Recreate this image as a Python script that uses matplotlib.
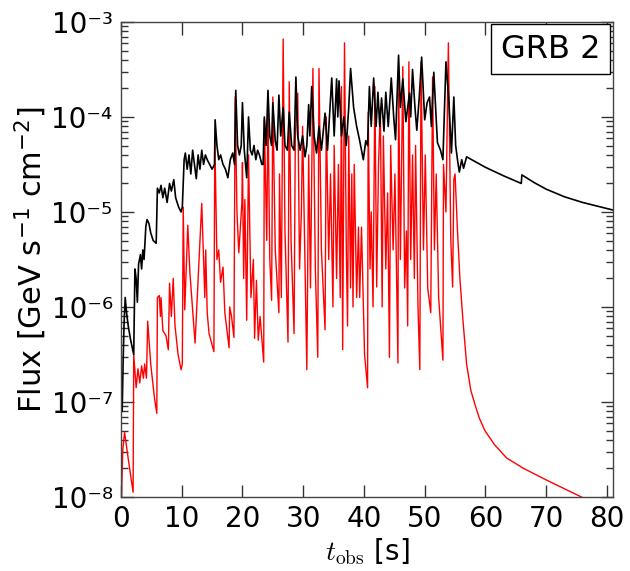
import numpy as np
import matplotlib
matplotlib.use("Agg")
import matplotlib.pyplot as plt
from matplotlib.ticker import FixedLocator, LogLocator, NullFormatter

# ---- data: (time [s], log10 flux [GeV s^-1 cm^-2]) ----
black_points = [
    (0.0, -7.1), (0.1, -6.95), (0.2, -7.1), (0.35, -6.6), (0.5, -6.2), (0.7, -5.9), (0.9, -6.05),
    (1.2, -6.2), (1.6, -6.35), (2.1, -6.5), (2.3, -5.6), (2.5, -5.7), (2.7, -5.95), (2.9, -5.55),
    (3.2, -5.45), (3.4, -5.6), (3.6, -5.4), (3.8, -5.5), (4.1, -5.15), (4.3, -5.08), (4.6, -5.12),
    (4.9, -5.22), (5.3, -5.3), (5.8, -5.33), (6.0, -4.75), (6.3, -4.8), (6.6, -4.72), (6.9, -4.85),
    (7.2, -4.75), (7.6, -4.9), (8.0, -4.7), (8.3, -4.78), (8.7, -4.66), (9.0, -4.85), (9.5, -4.95),
    (9.9, -5.0), (10.1, -4.95), (10.4, -4.45), (10.6, -4.38), (10.9, -4.55), (11.2, -4.4),
    (11.5, -4.6), (11.8, -4.35), (12.1, -4.5), (12.4, -4.65), (12.7, -4.4), (13.0, -4.55),
    (13.3, -4.35), (13.6, -4.5), (13.9, -4.4), (14.2, -4.45), (14.6, -4.5), (15.0, -4.55),
    (15.4, -4.5), (15.5, -4.03), (15.8, -4.3), (16.1, -4.45), (16.4, -4.4), (16.8, -4.5),
    (17.2, -4.55), (17.6, -4.64), (18.0, -4.45), (18.4, -4.38), (18.7, -4.5), (18.9, -3.72),
    (19.2, -4.3), (19.5, -4.4), (19.8, -4.3), (20.0, -3.85), (20.3, -4.35), (20.7, -4.64),
    (21.0, -4.0), (21.3, -4.35), (21.6, -4.4), (21.9, -4.3), (22.2, -4.45), (22.5, -4.35),
    (22.8, -4.4), (23.2, -4.5), (23.4, -4.5), (23.6, -4.0), (23.9, -4.3), (24.2, -3.72),
    (24.5, -4.2), (24.8, -4.3), (25.0, -3.85), (25.4, -4.25), (25.7, -4.35), (26.0, -3.77),
    (26.3, -4.2), (26.7, -3.9), (27.0, -4.3), (27.4, -4.35), (27.7, -3.95), (28.1, -4.3),
    (28.5, -4.35), (28.8, -3.58), (29.1, -4.2), (29.5, -4.35), (29.9, -4.2), (30.3, -4.42),
    (30.6, -4.3), (30.9, -3.87), (31.1, -4.2), (31.4, -3.68), (31.8, -4.2), (32.2, -4.38),
    (32.6, -4.1), (33.0, -4.35), (33.6, -3.96), (34.0, -4.35), (34.7, -3.59), (35.1, -4.2),
    (35.5, -3.6), (35.7, -4.0), (35.9, -3.62), (36.3, -4.2), (36.7, -4.0), (37.1, -4.3),
    (37.5, -3.9), (37.8, -3.49), (38.3, -3.9), (38.8, -4.1), (39.3, -4.25), (39.9, -4.45),
    (40.3, -4.25), (40.6, -4.3), (40.9, -3.68), (41.2, -4.1), (41.6, -3.59), (42.0, -4.1),
    (42.3, -3.74), (42.6, -4.1), (42.9, -3.8), (43.3, -4.15), (43.6, -3.74), (44.0, -4.1),
    (44.5, -3.59), (44.9, -4.0), (45.2, -4.24), (45.7, -3.35), (46.0, -3.9), (46.4, -3.6),
    (46.9, -4.05), (47.5, -3.75), (47.7, -4.0), (48.0, -3.5), (48.4, -3.9), (48.7, -4.14),
    (49.1, -3.8), (49.5, -3.37), (50.0, -4.03), (50.4, -3.85), (50.8, -3.79), (51.1, -4.1),
    (51.5, -3.53), (52.1, -4.27), (52.6, -4.35), (53.0, -4.45), (53.5, -3.42), (54.0, -3.85),
    (54.4, -4.38), (54.8, -3.79), (55.1, -4.3), (55.4, -4.45), (55.7, -4.58), (56.1, -4.45),
    (56.4, -4.54), (56.9, -4.42), (60.0, -4.53), (63.0, -4.62), (65.9, -4.70), (66.0, -4.61),
    (68.0, -4.69), (70.0, -4.76), (73.0, -4.84), (76.0, -4.90), (78.5, -4.94), (81.0, -4.98),
]

red_points = [
    (0.0, -8.2), (0.3, -7.5), (0.6, -7.32), (1.2, -7.6), (2.0, -7.95), (2.1, -6.5), (2.5, -6.85),
    (2.8, -6.65), (3.1, -6.8), (3.4, -6.62), (3.7, -6.75), (3.9, -6.6), (4.2, -6.75), (4.4, -6.15),
    (4.9, -6.6), (5.5, -6.95), (5.9, -7.12), (6.0, -5.9), (6.3, -5.88), (6.5, -6.1), (6.6, -5.9),
    (6.9, -6.25), (7.4, -6.3), (7.8, -6.45), (8.0, -5.75), (8.3, -6.1), (8.6, -5.7), (8.9, -6.2),
    (9.4, -6.5), (9.9, -6.66), (10.1, -6.6), (10.25, -4.95), (10.5, -6.03), (11.0, -5.14),
    (11.35, -5.64), (12.2, -6.38), (13.3, -4.91), (13.8, -5.9), (13.95, -5.4), (14.2, -6.06),
    (14.5, -6.28), (15.3, -6.47), (15.45, -4.22), (15.8, -5.5), (16.1, -5.4), (16.4, -5.74),
    (16.8, -5.58), (17.1, -6.06), (17.8, -6.43), (17.9, -6.0), (18.2, -6.1), (18.6, -6.32),
    (18.8, -3.79), (19.1, -5.01), (19.4, -5.43), (19.9, -4.91), (20.0, -4.48), (20.2, -5.7),
    (20.4, -4.87), (20.7, -6.14), (21.0, -4.4), (21.4, -5.9), (21.8, -5.5), (22.0, -6.33),
    (22.3, -5.72), (22.6, -6.35), (22.9, -6.1), (23.5, -6.58), (23.6, -4.03), (24.0, -5.3),
    (24.2, -3.89), (24.5, -5.5), (24.8, -5.93), (25.0, -3.79), (25.4, -5.4), (26.0, -6.06),
    (26.1, -4.6), (26.4, -5.9), (26.7, -3.18), (27.0, -5.2), (27.5, -6.37), (27.7, -3.63),
    (28.0, -5.3), (28.5, -6.28), (28.7, -4.2), (29.1, -3.75), (29.4, -5.6), (29.7, -5.0),
    (29.9, -4.1), (30.6, -6.66), (30.9, -4.4), (31.2, -5.8), (31.6, -3.49), (32.0, -5.6),
    (32.4, -6.53), (32.6, -3.49), (33.0, -5.4), (33.6, -6.24), (33.8, -4.0), (34.2, -5.5),
    (34.5, -4.6), (34.9, -6.0), (35.1, -4.3), (35.5, -5.7), (35.8, -4.5), (36.1, -5.9),
    (36.3, -3.68), (36.5, -6.45), (36.8, -3.22), (37.1, -5.4), (37.3, -6.2), (37.5, -4.2),
    (37.8, -5.8), (38.0, -4.6), (38.2, -6.0), (38.4, -4.5), (38.8, -5.9), (39.1, -5.16),
    (39.3, -5.9), (39.6, -5.16), (40.1, -6.5), (40.6, -6.85), (40.7, -3.95), (41.0, -5.6),
    (41.2, -5.0), (41.5, -6.0), (41.8, -3.68), (42.1, -5.79), (42.4, -4.5), (42.7, -3.9),
    (43.0, -6.0), (43.2, -4.2), (43.6, -5.6), (43.9, -4.8), (44.2, -6.53), (44.4, -4.3),
    (44.8, -5.4), (45.1, -4.6), (45.6, -6.59), (45.7, -3.56), (46.0, -5.5), (46.4, -3.47),
    (46.7, -5.8), (47.0, -5.2), (47.2, -6.2), (47.4, -3.42), (47.7, -5.5), (48.0, -4.4),
    (48.3, -5.7), (48.5, -4.3), (48.9, -6.0), (49.2, -6.66), (49.4, -3.42), (49.8, -5.4),
    (50.1, -4.4), (50.5, -5.8), (51.0, -6.06), (51.3, -3.58), (51.6, -5.4), (51.9, -4.6),
    (52.3, -5.9), (53.0, -6.56), (53.1, -4.5), (53.5, -5.0), (53.9, -3.22), (54.3, -5.3),
    (54.6, -5.79), (54.8, -4.66), (55.0, -4.6), (55.4, -5.2), (55.8, -5.7), (56.3, -6.14),
    (56.9, -6.6), (57.6, -6.88), (58.3, -7.03), (59.0, -7.17), (59.9, -7.3), (61.5, -7.45),
    (63.5, -7.59), (65.8, -7.68), (66.0, -7.69), (70.0, -7.82), (75.8, -8.0), (81.0, -8.15),
]

label_text = "GRB 2"
x_ticks = [0, 10, 20, 30, 40, 50, 60, 70, 80]
y_exps = [-8, -7, -6, -5, -4, -3]

t_black = [p[0] for p in black_points]
f_black = [10.0 ** p[1] for p in black_points]
t_red = [p[0] for p in red_points]
f_red = [10.0 ** p[1] for p in red_points]

sup = str.maketrans("-0123456789", "⁻⁰¹²³⁴⁵⁶⁷⁸⁹")

fig = plt.figure(figsize=(6.3, 5.71), dpi=100)
ax = fig.add_axes([0.192, 0.1296, 0.781, 0.832])

ax.plot(t_red, f_red, color="#ff0000", lw=1.0)
ax.plot(t_black, f_black, color="black", lw=1.2)

ax.set_yscale("log")
ax.set_xlim(0, 81)
ax.set_ylim(1e-8, 1e-3)

ax.xaxis.set_major_locator(FixedLocator(x_ticks))
ax.set_xticklabels([str(v) for v in x_ticks])
ax.yaxis.set_major_locator(FixedLocator([10.0 ** e for e in y_exps]))
ax.set_yticklabels(["10" + str(e).translate(sup) for e in y_exps])
ax.yaxis.set_minor_locator(LogLocator(base=10, subs=np.arange(2, 10), numticks=20))
ax.yaxis.set_minor_formatter(NullFormatter())

ax.tick_params(which="both", direction="in", top=True, right=True, labelsize=20, width=1,
               colors="#333333", labelcolor="black")
ax.tick_params(which="major", length=9, pad=6)
ax.tick_params(which="minor", length=5)
for s in ax.spines.values():
    s.set_color("#444444")
    s.set_linewidth(1.0)

ax.set_xlabel(r"$t_{\rm obs}$ [s]", fontsize=20, math_fontfamily="cm", labelpad=2)
ax.set_ylabel(r"Flux [GeV s$^{-1}$ cm$^{-2}$]", fontsize=22, math_fontfamily="dejavusans",
              labelpad=2)

ax.text(0.975, 0.975, label_text, transform=ax.transAxes, ha="right", va="top", fontsize=23,
        bbox=dict(boxstyle="square,pad=0.3", facecolor="white", edgecolor="black", lw=1.0))

fig.savefig("out.png", dpi=100)
